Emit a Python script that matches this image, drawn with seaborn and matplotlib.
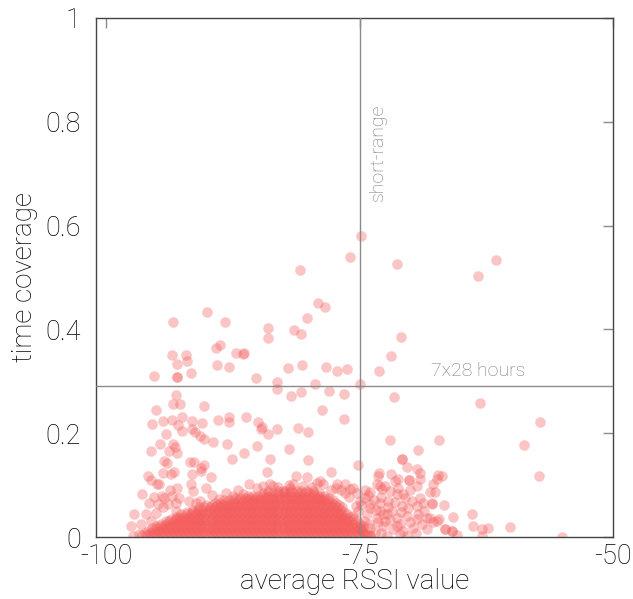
import numpy as np
import pandas as pd
import matplotlib
matplotlib.use("Agg")
import matplotlib.pyplot as plt
import seaborn as sns

# ---------------- data ----------------
# sparse / outlying points (average RSSI, time coverage)
sparse_xy = [
    (-74.88, 0.579), (-75.97, 0.539), (-71.33, 0.526), (-80.87, 0.515), (-61.57, 0.533), (-63.34, 0.503),
    (-79.09, 0.451), (-78.40, 0.444), (-80.15, 0.422), (-90.01, 0.433), (-93.36, 0.414), (-88.26, 0.414),
    (-84.05, 0.403), (-84.05, 0.383), (-81.43, 0.398), (-80.74, 0.392), (-70.94, 0.386), (-88.76, 0.370),
    (-89.15, 0.364), (-93.52, 0.350), (-92.11, 0.351), (-91.98, 0.340), (-92.97, 0.333), (-87.21, 0.355),
    (-86.52, 0.352), (-86.36, 0.355), (-89.08, 0.332), (-87.90, 0.327), (-91.62, 0.316), (-95.27, 0.310),
    (-93.03, 0.308), (-93.03, 0.308), (-82.08, 0.325), (-80.64, 0.331), (-78.30, 0.327), (-77.19, 0.320),
    (-76.20, 0.324), (-71.89, 0.348), (-73.11, 0.320), (-85.21, 0.306), (-83.11, 0.298), (-83.14, 0.286),
    (-74.95, 0.295), (-79.42, 0.295), (-78.04, 0.282), (-80.74, 0.280), (-81.79, 0.271), (-76.53, 0.275),
    (-71.57, 0.270), (-63.12, 0.259), (-93.07, 0.273), (-93.42, 0.257), (-92.70, 0.257), (-90.31, 0.253),
    (-95.04, 0.245), (-78.67, 0.244), (-93.49, 0.226), (-92.53, 0.231), (-94.41, 0.224), (-95.43, 0.217),
    (-91.55, 0.224), (-90.56, 0.220), (-92.93, 0.216), (-92.48, 0.205), (-91.55, 0.208), (-91.19, 0.202),
    (-90.73, 0.195), (-90.31, 0.188), (-88.92, 0.226), (-87.87, 0.231), (-87.84, 0.221), (-86.16, 0.232),
    (-85.04, 0.221), (-84.74, 0.209), (-83.99, 0.199), (-84.59, 0.211), (-83.11, 0.209), (-81.07, 0.210),
    (-80.05, 0.202), (-76.50, 0.227), (-57.20, 0.222), (-94.08, 0.198), (-89.42, 0.184), (-88.10, 0.180),
    (-94.70, 0.179), (-93.39, 0.179), (-93.17, 0.173), (-93.79, 0.165), (-95.56, 0.166), (-81.92, 0.170),
    (-85.14, 0.175), (-86.39, 0.162), (-87.57, 0.151), (-83.83, 0.151), (-80.05, 0.149), (-93.03, 0.161),
    (-94.28, 0.147), (-93.95, 0.142), (-91.72, 0.144), (-91.29, 0.145), (-90.60, 0.133), (-90.31, 0.139),
    (-91.55, 0.122), (-91.62, 0.103), (-94.41, 0.124), (-93.59, 0.121), (-93.26, 0.126), (-95.89, 0.118),
    (-95.56, 0.110), (-89.67, 0.115), (-84.15, 0.126), (-77.81, 0.126), (-75.18, 0.139), (-81.26, 0.117),
    (-80.21, 0.115), (-79.22, 0.105), (-90.17, 0.095), (-96.42, 0.083), (-93.03, 0.095), (-93.69, 0.090),
    (-71.96, 0.187), (-67.13, 0.186), (-58.75, 0.177), (-69.26, 0.168), (-70.81, 0.150), (-70.81, 0.150),
    (-57.30, 0.118), (-73.08, 0.124), (-71.92, 0.121), (-70.35, 0.134), (-69.30, 0.131), (-69.00, 0.123),
    (-67.29, 0.120), (-67.39, 0.112), (-70.12, 0.110), (-70.12, 0.110), (-69.36, 0.099), (-73.30, 0.102),
    (-72.49, 0.099), (-71.50, 0.108), (-68.05, 0.086), (-67.55, 0.086), (-70.68, 0.083), (-69.03, 0.076),
    (-67.88, 0.066), (-66.64, 0.061), (-65.81, 0.039), (-63.94, 0.044), (-63.78, 0.021), (-62.95, 0.015),
    (-62.30, 0.017), (-60.19, 0.019), (-66.57, 0.015), (-66.57, 0.015), (-65.91, 0.012), (-65.91, 0.012),
    (-65.36, 0.003), (-62.89, 0.002), (-55.06, 0.000), (-67.72, 0.028), (-68.05, 0.037), (-67.13, 0.035),
    (-67.39, 0.031),
]

# fringe points around the dense cloud
fringe_xy = [
    (-90.63, 0.128), (-94.74, 0.103), (-91.45, 0.088), (-95.24, 0.077), (-94.25, 0.075), (-93.49, 0.079),
    (-92.77, 0.075), (-95.73, 0.066), (-94.90, 0.064), (-93.92, 0.063), (-93.10, 0.066), (-91.79, 0.070),
    (-91.12, 0.066), (-85.87, 0.102), (-84.55, 0.099), (-83.56, 0.099), (-88.83, 0.073), (-87.51, 0.079),
    (-86.52, 0.083), (-97.21, 0.045), (-96.06, 0.044), (-95.07, 0.047), (-94.41, 0.057), (-93.10, 0.050),
    (-97.53, 0.021), (-96.55, 0.025), (-95.56, 0.031), (-96.72, 0.005), (-97.37, 0.002),
    (-78.90, 0.107), (-77.26, 0.102), (-76.43, 0.102), (-75.94, 0.092), (-73.15, 0.118), (-71.17, 0.112),
    (-69.03, 0.112), (-73.96, 0.086), (-72.81, 0.092), (-71.99, 0.089), (-71.33, 0.083),
    (-73.96, 0.063), (-72.98, 0.066), (-72.16, 0.057), (-70.84, 0.060), (-69.85, 0.070), (-69.36, 0.060),
    (-68.71, 0.066), (-67.88, 0.063), (-74.29, 0.044), (-73.30, 0.037), (-72.32, 0.044), (-71.33, 0.037),
    (-70.35, 0.041), (-69.36, 0.034), (-68.38, 0.037), (-73.96, 0.018), (-72.65, 0.021), (-71.67, 0.015),
    (-70.68, 0.012), (-69.69, 0.018), (-68.38, 0.015), (-73.96, 0.002), (-72.32, 0.002), (-70.35, 0.002),
    (-67.72, 0.102), (-66.89, 0.118), (-83.83, 0.102), (-82.51, 0.089), (-81.85, 0.095), (-95.00, 0.102),
    (-94.51, 0.079), (-90.73, 0.070), (-81.53, 0.102), (-80.54, 0.099), (-78.57, 0.102), (-75.61, 0.095),
    (-75.00, 0.070), (-74.50, 0.075), (-74.00, 0.055), (-75.20, 0.050), (-74.60, 0.030), (-73.50, 0.010),
    (-74.80, 0.012), (-73.00, 0.050), (-72.50, 0.030), (-71.00, 0.025), (-75.30, 0.085), (-76.80, 0.090),
    (-77.80, 0.090),
    (-74.20, 0.080), (-73.60, 0.072), (-72.90, 0.078), (-72.20, 0.070), (-71.50, 0.068), (-70.50, 0.075),
    (-74.90, 0.062), (-73.40, 0.052), (-72.70, 0.045), (-71.80, 0.050), (-70.90, 0.048), (-70.20, 0.055),
    (-74.10, 0.025), (-73.20, 0.028), (-72.00, 0.033), (-71.30, 0.022), (-70.00, 0.028), (-69.20, 0.045),
    (-68.80, 0.025), (-75.60, 0.040), (-75.00, 0.020), (-74.30, 0.006), (-72.90, 0.008), (-71.00, 0.005),
    (-69.40, 0.008), (-68.60, 0.050), (-76.00, 0.078), (-75.40, 0.060), (-74.50, 0.090), (-73.00, 0.098),
    (-71.20, 0.095), (-70.00, 0.090), (-85.10, 0.094), (-83.00, 0.097), (-82.00, 0.100), (-79.70, 0.096),
    (-77.30, 0.094), (-76.40, 0.085), (-88.20, 0.085), (-89.60, 0.080), (-87.00, 0.090),
]

# dense cloud, one row per coverage level
core_row_y = [0.003, 0.0075, 0.012, 0.0165, 0.021, 0.0255, 0.030, 0.0345, 0.039, 0.0435,
              0.048, 0.0525, 0.057, 0.0615, 0.066, 0.0705, 0.075, 0.0795, 0.084, 0.0885]
core_row_x = [
    [-96.5, -96.0, -95.5, -95.0, -94.5, -94.0, -93.5, -93.0, -92.5, -92.0, -91.5, -91.0, -90.5, -90.0, -89.5,
     -89.0, -88.5, -88.0, -87.5, -87.0, -86.5, -86.0, -85.5, -85.0, -84.5, -84.0, -83.5, -83.0, -82.5, -82.0,
     -81.5, -81.0, -80.5, -80.0, -79.5, -79.0, -78.5, -78.0, -77.5, -77.0, -76.5, -76.0, -75.5, -75.0, -74.5, -74.0],
    [-96.2, -95.7, -95.2, -94.7, -94.2, -93.7, -93.2, -92.7, -92.2, -91.7, -91.2, -90.7, -90.2, -89.7, -89.2,
     -88.7, -88.2, -87.7, -87.2, -86.7, -86.2, -85.7, -85.2, -84.7, -84.2, -83.7, -83.2, -82.7, -82.2, -81.7,
     -81.2, -80.7, -80.2, -79.7, -79.2, -78.7, -78.2, -77.7, -77.2, -76.7, -76.2, -75.7, -75.2, -74.6],
    [-95.9, -95.4, -94.9, -94.4, -93.9, -93.4, -92.9, -92.4, -91.9, -91.4, -90.9, -90.4, -89.9, -89.4, -88.9,
     -88.4, -87.9, -87.4, -86.9, -86.4, -85.9, -85.4, -84.9, -84.4, -83.9, -83.4, -82.9, -82.4, -81.9, -81.4,
     -80.9, -80.4, -79.9, -79.4, -78.9, -78.4, -77.9, -77.4, -76.9, -76.4, -75.9, -75.4, -74.8],
    [-95.5, -95.0, -94.5, -94.0, -93.5, -93.0, -92.5, -92.0, -91.5, -91.0, -90.5, -90.0, -89.5, -89.0, -88.5,
     -88.0, -87.5, -87.0, -86.5, -86.0, -85.5, -85.0, -84.5, -84.0, -83.5, -83.0, -82.5, -82.0, -81.5, -81.0,
     -80.5, -80.0, -79.5, -79.0, -78.5, -78.0, -77.5, -77.0, -76.5, -76.0, -75.5, -75.0],
    [-95.1, -94.7, -94.2, -93.7, -93.2, -92.7, -92.2, -91.7, -91.2, -90.7, -90.2, -89.7, -89.2, -88.7, -88.2,
     -87.7, -87.2, -86.7, -86.2, -85.7, -85.2, -84.7, -84.2, -83.7, -83.2, -82.7, -82.2, -81.7, -81.2, -80.7,
     -80.2, -79.7, -79.2, -78.7, -78.2, -77.7, -77.2, -76.7, -76.2, -75.7, -75.3, -74.7],
    [-94.6, -94.1, -93.6, -93.1, -92.6, -92.1, -91.6, -91.1, -90.6, -90.1, -89.6, -89.1, -88.6, -88.1, -87.6,
     -87.1, -86.6, -86.1, -85.6, -85.1, -84.6, -84.1, -83.6, -83.1, -82.6, -82.1, -81.6, -81.1, -80.6, -80.1,
     -79.6, -79.1, -78.6, -78.1, -77.6, -77.1, -76.6, -76.1, -75.6, -75.0],
    [-94.1, -93.8, -93.3, -92.8, -92.3, -91.8, -91.3, -90.8, -90.3, -89.8, -89.3, -88.8, -88.3, -87.8, -87.3,
     -86.8, -86.3, -85.8, -85.3, -84.8, -84.3, -83.8, -83.3, -82.8, -82.3, -81.8, -81.3, -80.8, -80.3, -79.8,
     -79.3, -78.8, -78.3, -77.8, -77.3, -76.8, -76.3, -75.9, -75.3],
    [-93.6, -93.1, -92.6, -92.1, -91.6, -91.1, -90.6, -90.1, -89.6, -89.1, -88.6, -88.1, -87.6, -87.1, -86.6,
     -86.1, -85.6, -85.1, -84.6, -84.1, -83.6, -83.1, -82.6, -82.1, -81.6, -81.1, -80.6, -80.1, -79.6, -79.1,
     -78.6, -78.1, -77.6, -77.1, -76.6, -76.2, -75.6],
    [-93.1, -92.8, -92.3, -91.8, -91.3, -90.8, -90.3, -89.8, -89.3, -88.8, -88.3, -87.8, -87.3, -86.8, -86.3,
     -85.8, -85.3, -84.8, -84.3, -83.8, -83.3, -82.8, -82.3, -81.8, -81.3, -80.8, -80.3, -79.8, -79.3, -78.8,
     -78.3, -77.8, -77.3, -76.8, -76.5, -75.9],
    [-92.6, -92.1, -91.6, -91.1, -90.6, -90.1, -89.6, -89.1, -88.6, -88.1, -87.6, -87.1, -86.6, -86.1, -85.6,
     -85.1, -84.6, -84.1, -83.6, -83.1, -82.6, -82.1, -81.6, -81.1, -80.6, -80.1, -79.6, -79.1, -78.6, -78.1,
     -77.6, -77.1, -76.8, -76.2],
    [-92.0, -91.5, -91.0, -90.5, -90.0, -89.5, -89.0, -88.5, -88.0, -87.5, -87.0, -86.5, -86.0, -85.5, -85.0,
     -84.5, -84.0, -83.5, -83.0, -82.5, -82.0, -81.5, -81.0, -80.5, -80.0, -79.5, -79.0, -78.5, -78.0, -77.5,
     -77.1, -76.5],
    [-91.4, -90.9, -90.4, -89.9, -89.4, -88.9, -88.4, -87.9, -87.4, -86.9, -86.4, -85.9, -85.4, -84.9, -84.4,
     -83.9, -83.4, -82.9, -82.4, -81.9, -81.4, -80.9, -80.4, -79.9, -79.4, -78.9, -78.4, -77.9, -77.4, -76.8],
    [-90.8, -90.3, -89.8, -89.3, -88.8, -88.3, -87.8, -87.3, -86.8, -86.3, -85.8, -85.3, -84.8, -84.3, -83.8,
     -83.3, -82.8, -82.3, -81.8, -81.3, -80.8, -80.3, -79.8, -79.3, -78.8, -78.3, -77.7, -77.2, -76.7],
    [-90.1, -89.6, -89.1, -88.6, -88.1, -87.6, -87.1, -86.6, -86.1, -85.6, -85.1, -84.6, -84.1, -83.6, -83.1,
     -82.6, -82.1, -81.6, -81.1, -80.6, -80.1, -79.6, -79.1, -78.6, -78.0, -77.5, -77.0],
    [-89.3, -88.8, -88.3, -87.8, -87.3, -86.8, -86.3, -85.8, -85.3, -84.8, -84.3, -83.8, -83.3, -82.8, -82.3,
     -81.8, -81.3, -80.8, -80.3, -79.8, -79.3, -78.8, -78.3, -77.8, -77.3],
    [-88.4, -87.9, -87.4, -86.9, -86.4, -85.9, -85.4, -84.9, -84.4, -83.9, -83.4, -82.9, -82.4, -81.9, -81.4,
     -80.9, -80.4, -79.9, -79.4, -78.9, -78.6, -78.1, -77.6],
    [-87.3, -86.8, -86.3, -85.8, -85.3, -84.8, -84.3, -83.8, -83.3, -82.8, -82.3, -81.8, -81.3, -80.8, -80.3,
     -79.8, -79.3, -79.0, -78.5, -78.0],
    [-86.0, -85.5, -85.0, -84.5, -84.0, -83.5, -83.0, -82.5, -82.0, -81.5, -81.0, -80.5, -80.0, -79.5, -79.0,
     -78.5],
    [-84.5, -84.0, -83.5, -83.0, -82.5, -82.0, -81.5, -81.0, -80.5, -80.0, -79.5, -79.0],
    [-84.0, -83.0, -82.4, -81.8, -81.2, -80.8, -80.2, -79.6],
]

x_ticks = [-100, -75, -50]
x_tick_labels = ["-100", "-75", "-50"]
y_ticks = [0, 0.2, 0.4, 0.6, 0.8, 1.0]
y_tick_labels = ["0", "0.2", "0.4", "0.6", "0.8", "1"]
rssi_threshold = -75
coverage_threshold = 0.2917

# ---------------- table ----------------
rows = []
for y, xs in zip(core_row_y, core_row_x):
    for x in xs:
        rows.append((x, y))
rows += fringe_xy + sparse_xy
df = pd.DataFrame(rows, columns=["rssi", "coverage"])

# ---------------- plot ----------------
sns.set_theme(style="white")
plt.rcParams["font.family"] = ["Roboto", "DejaVu Sans"]

fig = plt.figure(figsize=(6.33, 5.99), dpi=100)
ax = fig.add_axes([96 / 633, 62 / 599, 517 / 633, 519 / 599])

sns.scatterplot(data=df, x="rssi", y="coverage", color="#F45B5B", alpha=0.35,
                s=58, linewidth=0, ax=ax, legend=False)

ax.axvline(rssi_threshold, color="#8a8a8a", lw=1, zorder=3)
ax.axhline(coverage_threshold, color="#8a8a8a", lw=1, zorder=3)

ax.set_xlim(-101, -50)
ax.set_ylim(0, 1)
ax.set_xticks(x_ticks)
ax.set_yticks(y_ticks)
ax.set_xticklabels(x_tick_labels, fontweight="light")
ax.set_yticklabels(y_tick_labels, fontweight="light")
ax.tick_params(direction="in", length=7, width=1, color="#8a8a8a", top=True, right=True,
               labelsize=19.5, labelcolor="#000000")
ax.tick_params(axis="x", pad=4)
ax.tick_params(axis="y", pad=11)

for sp in ax.spines.values():
    sp.set_color("#444444")
    sp.set_linewidth(1)

ax.set_xlabel("average RSSI value", fontsize=20, color="#000000", labelpad=-1, fontweight="light")
ax.set_ylabel("time coverage", fontsize=20, color="#000000", labelpad=5, fontweight="light")

ax.text(-73.2, 0.835, "short-range", rotation=90, ha="center", va="top",
        color="#7a7a7a", fontsize=14, fontweight="light")
ax.text(-63.3, 0.319, "7x28 hours", ha="center", va="center",
        color="#7a7a7a", fontsize=14, fontweight="light")

fig.savefig("out.png", dpi=100)
